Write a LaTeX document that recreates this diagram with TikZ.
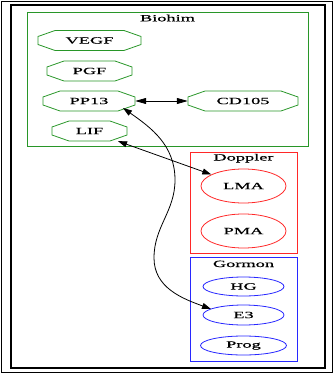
\documentclass[tikz,border=0pt]{standalone}
\usepackage{fontspec}
\setmainfont{Liberation Serif}[FakeStretch=1.93, FakeBold=0.6]
\usetikzlibrary{arrows.meta,shapes.geometric,calc}
\definecolor{cgreen}{RGB}{40,150,40}
\definecolor{cred}{RGB}{255,40,40}
\definecolor{cblue}{RGB}{40,40,255}
\newcommand\octo[5]{%
  \node[octtext, minimum width=#4*2pt] (#1) at (#2,#3) {#5};
  \draw[octline] (#2-#4,#3+4) -- (#2-#4+17,#3+10) -- (#2+#4-17,#3+10) -- (#2+#4,#3+4)
    -- (#2+#4,#3-4) -- (#2+#4-17,#3-10) -- (#2-#4+17,#3-10) -- (#2-#4,#3-4) -- cycle;
}
\tikzset{
  lbl/.style={font=\fontsize{9.5}{11}\selectfont},
  octtext/.style={lbl, rectangle, inner sep=0pt, minimum height=20pt},
  octline/.style={draw=cgreen, line width=0.8pt},
  clusterbox/.style={line width=1pt},
  ctitle/.style={lbl, anchor=base, inner sep=0pt},
  ell/.style={lbl, ellipse, inner sep=0pt, line width=0.8pt},
  frame/.style={draw=black, line width=1.2pt},
  edge/.style={draw=black, line width=0.8pt, {Triangle[length=9pt,width=6pt]}-{Triangle[length=9pt,width=6pt]}},
}
\begin{document}
\begin{tikzpicture}[x=1pt,y=1pt]
\useasboundingbox (0,0) rectangle (336,-374);
% frames
\draw[frame] (1.5,-1.5) rectangle (332.5,-372.5);
\draw[frame] (11,-5) rectangle (325,-368);
% clusters
\draw[clusterbox, cgreen] (27,-13) rectangle (308,-147);
\node[ctitle] (tbio) at (167.5,-21.3) {Biohim};
\draw[clusterbox, cred] (190,-152) rectangle (297,-253);
\node[ctitle] (tdop) at (243.5,-160.5) {Doppler};
\draw[clusterbox, cblue] (190,-257) rectangle (297,-361);
\node[ctitle] (tgor) at (243.5,-267) {Gormon};
% Biohim nodes
\octo{vegf}{89.5}{-40.5}{51.5}{VEGF}
\octo{pgf}{89.5}{-71}{42.5}{PGF}
\octo{pp13}{89}{-101}{46}{PP13}
\octo{cd105}{243}{-101}{55}{CD105}
\octo{lif}{89.5}{-131}{37.5}{LIF}
% Doppler nodes
\node[ell, draw=cred, minimum width=85pt, minimum height=34pt] (lma) at (243.5,-186) {LMA};
\node[ell, draw=cred, minimum width=85pt, minimum height=34pt] (pma) at (243.5,-231) {PMA};
% Gormon nodes
\node[ell, draw=cblue, minimum width=81pt, minimum height=19pt] (hg) at (243.5,-286.5) {HG};
\node[ell, draw=cblue, minimum width=81pt, minimum height=20pt] (e3) at (243.5,-315) {E3};
\node[ell, draw=cblue, minimum width=86pt, minimum height=19pt] (prog) at (243.5,-345.5) {Prog};
% edges
\draw[edge, {Triangle[length=11pt,width=6pt]}-{Triangle[length=11pt,width=6pt]}] (pp13) -- (cd105);
\draw[edge] (lif) -- (lma);
\coordinate (s1) at ($(pp13.center)+(34,-7)$);
\coordinate (e1) at ($(e3.center)+(-32.5,6)$);
\draw[edge] (s1) to[out=-35,in=90] (175,-180) to[out=-90,in=90] (154,-258) to[out=-90,in=160] (e1);
\end{tikzpicture}
\end{document}
